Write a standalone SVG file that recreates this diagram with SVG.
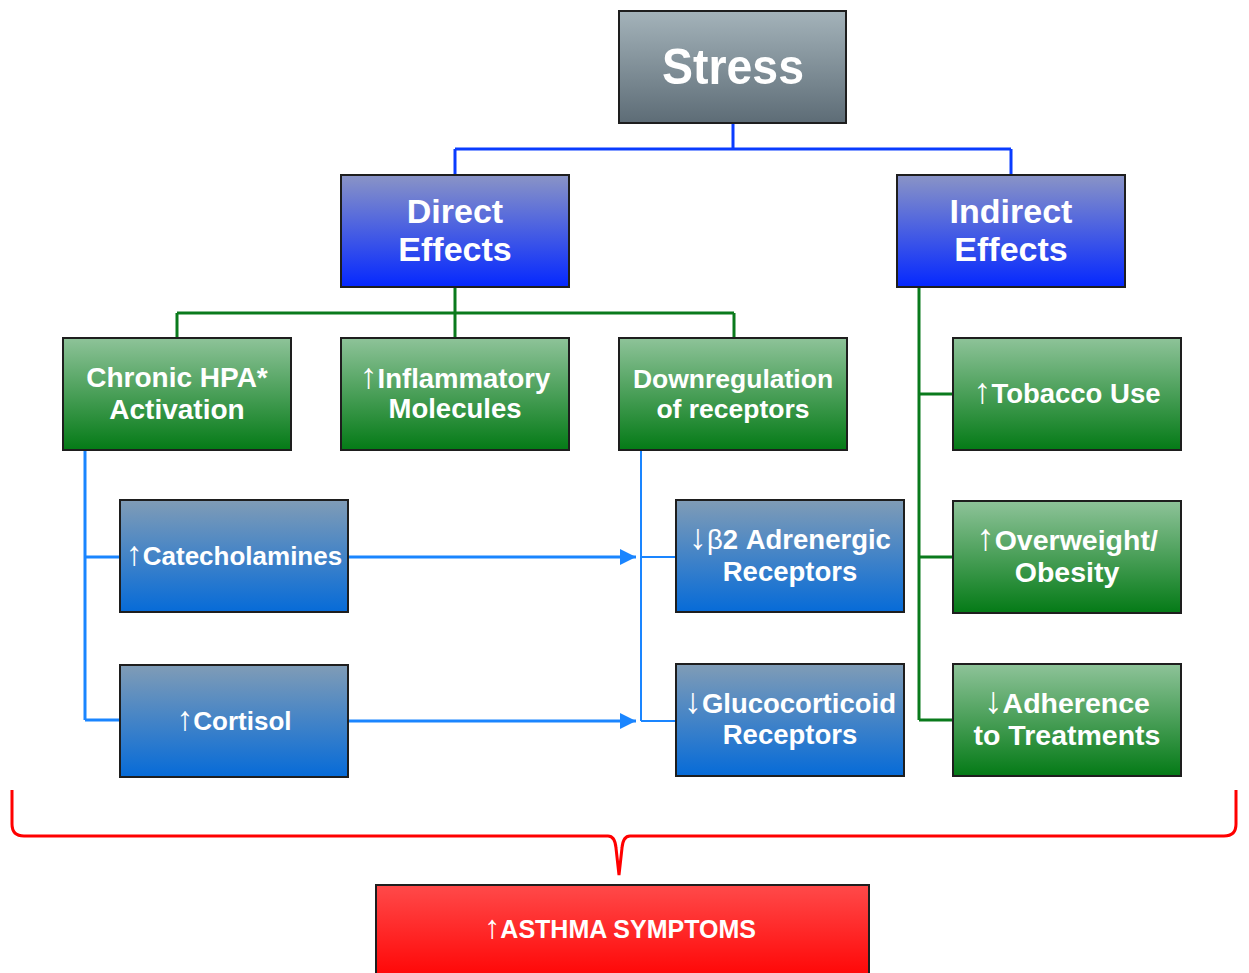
<svg xmlns="http://www.w3.org/2000/svg" width="1249" height="973" viewBox="0 0 1249 973">
<defs>
<linearGradient id="gGrey" x1="0" y1="0" x2="0" y2="1"><stop offset="0" stop-color="#a4b3ba"/><stop offset="1" stop-color="#5d6c76"/></linearGradient>
<linearGradient id="gBlue" x1="0" y1="0" x2="0" y2="1"><stop offset="0" stop-color="#8a94c6"/><stop offset="1" stop-color="#0528ff"/></linearGradient>
<linearGradient id="gGreen" x1="0" y1="0" x2="0" y2="1"><stop offset="0" stop-color="#8ec399"/><stop offset="1" stop-color="#047a16"/></linearGradient>
<linearGradient id="gSteel" x1="0" y1="0" x2="0" y2="1"><stop offset="0" stop-color="#809cb6"/><stop offset="1" stop-color="#066bd8"/></linearGradient>
<linearGradient id="gRed" x1="0" y1="0" x2="0" y2="1"><stop offset="0" stop-color="#ff4a4a"/><stop offset="1" stop-color="#ff0000"/></linearGradient>
<marker id="arr" viewBox="0 0 10 10" refX="10" refY="5" markerWidth="16" markerHeight="16" markerUnits="userSpaceOnUse" orient="auto"><path d="M0,0 L10,5 L0,10 z" fill="#1a85ff"/></marker>
<style>
.box{stroke:#1e1e1e;stroke-width:2}
.t{font-family:"Liberation Sans",Arial,sans-serif;font-weight:bold;fill:#fff;text-anchor:middle}
.a{font-weight:normal;font-size:1.3em}
.c1{fill:none;stroke:#0a3cff;stroke-width:3}
.c2{fill:none;stroke:#0a7a1c;stroke-width:3}
.c3{fill:none;stroke:#1a85ff;stroke-width:3}
.c4{fill:none;stroke:#1a85ff;stroke-width:2}
</style>
</defs>
<g id="connectors">
<path class="c1" d="M733,123 V149 M455,149 H1011 M455,149 V175 M1011,149 V175"/>
<path class="c2" d="M455,287 V337 M177,313 H734 M177,313 V337 M734,313 V337"/>
<path class="c2" d="M919,287 V720 M919,394 H953 M919,557 H953 M919,720 H953"/>
<path class="c3" d="M85,450 V720 M85,557 H120 M85,720 H120"/>
<path class="c3" d="M348,557 H636" marker-end="url(#arr)"/>
<path class="c3" d="M348,721 H636" marker-end="url(#arr)"/>
<path class="c4" d="M641,450 V721 M641,557 H676 M641,721 H676"/>
<path fill="none" stroke="#ff0000" stroke-width="3" d="M12,790 V824 Q12,836 24,836 H608 Q615,836 616,848 L619,875 L622,848 Q623,836 630,836 H1224 Q1236,836 1236,824 V790"/>
</g>
<g id="stress"><rect class="box" x="619" y="11" width="227" height="112" fill="url(#gGrey)"/><text class="t" x="733" y="84" font-size="50" textLength="142" lengthAdjust="spacingAndGlyphs">Stress</text></g>
<g id="direct"><rect class="box" x="341" y="175" width="228" height="112" fill="url(#gBlue)"/><text class="t" x="455" y="223" font-size="34">Direct</text><text class="t" x="455" y="261" font-size="34">Effects</text></g>
<g id="indirect"><rect class="box" x="897" y="175" width="228" height="112" fill="url(#gBlue)"/><text class="t" x="1011" y="223" font-size="34">Indirect</text><text class="t" x="1011" y="261" font-size="34">Effects</text></g>
<g id="hpa"><rect class="box" x="63" y="338" width="228" height="112" fill="url(#gGreen)"/><text class="t" x="177" y="387" font-size="28">Chronic HPA*</text><text class="t" x="177" y="419" font-size="28">Activation</text></g>
<g id="inflam"><rect class="box" x="341" y="338" width="228" height="112" fill="url(#gGreen)"/><text class="t" x="455" y="388" font-size="27.5"><tspan class="a">↑</tspan>Inflammatory</text><text class="t" x="455" y="418" font-size="27.5">Molecules</text></g>
<g id="downreg"><rect class="box" x="619" y="338" width="228" height="112" fill="url(#gGreen)"/><text class="t" x="733" y="388" font-size="26.5">Downregulation</text><text class="t" x="733" y="418" font-size="26.5">of receptors</text></g>
<g id="tobacco"><rect class="box" x="953" y="338" width="228" height="112" fill="url(#gGreen)"/><text class="t" x="1067" y="403" font-size="27.5"><tspan class="a">↑</tspan>Tobacco Use</text></g>
<g id="overweight"><rect class="box" x="953" y="501" width="228" height="112" fill="url(#gGreen)"/><text class="t" x="1067" y="550" font-size="28.5"><tspan class="a">↑</tspan>Overweight/</text><text class="t" x="1067" y="582" font-size="28.5">Obesity</text></g>
<g id="adherence"><rect class="box" x="953" y="664" width="228" height="112" fill="url(#gGreen)"/><text class="t" x="1067" y="713" font-size="28.5"><tspan class="a">↓</tspan>Adherence</text><text class="t" x="1067" y="745" font-size="28.5">to Treatments</text></g>
<g id="catechol"><rect class="box" x="120" y="500" width="228" height="112" fill="url(#gSteel)"/><text class="t" x="234" y="565" font-size="26"><tspan class="a">↑</tspan>Catecholamines</text></g>
<g id="cortisol"><rect class="box" x="120" y="665" width="228" height="112" fill="url(#gSteel)"/><text class="t" x="234" y="730" font-size="26"><tspan class="a">↑</tspan>Cortisol</text></g>
<g id="beta2"><rect class="box" x="676" y="500" width="228" height="112" fill="url(#gSteel)"/><text class="t" x="790" y="549" font-size="27.5"><tspan class="a">↓</tspan><tspan font-weight="normal">β</tspan>2 Adrenergic</text><text class="t" x="790" y="581" font-size="27.5">Receptors</text></g>
<g id="gluco"><rect class="box" x="676" y="664" width="228" height="112" fill="url(#gSteel)"/><text class="t" x="790" y="713" font-size="27.5"><tspan class="a">↓</tspan>Glucocorticoid</text><text class="t" x="790" y="744" font-size="27.5">Receptors</text></g>
<g id="asthma"><rect class="box" x="376" y="885" width="493" height="100" fill="url(#gRed)"/><text class="t" x="620" y="938" font-size="25"><tspan class="a">↑</tspan>ASTHMA SYMPTOMS</text></g>
</svg>
